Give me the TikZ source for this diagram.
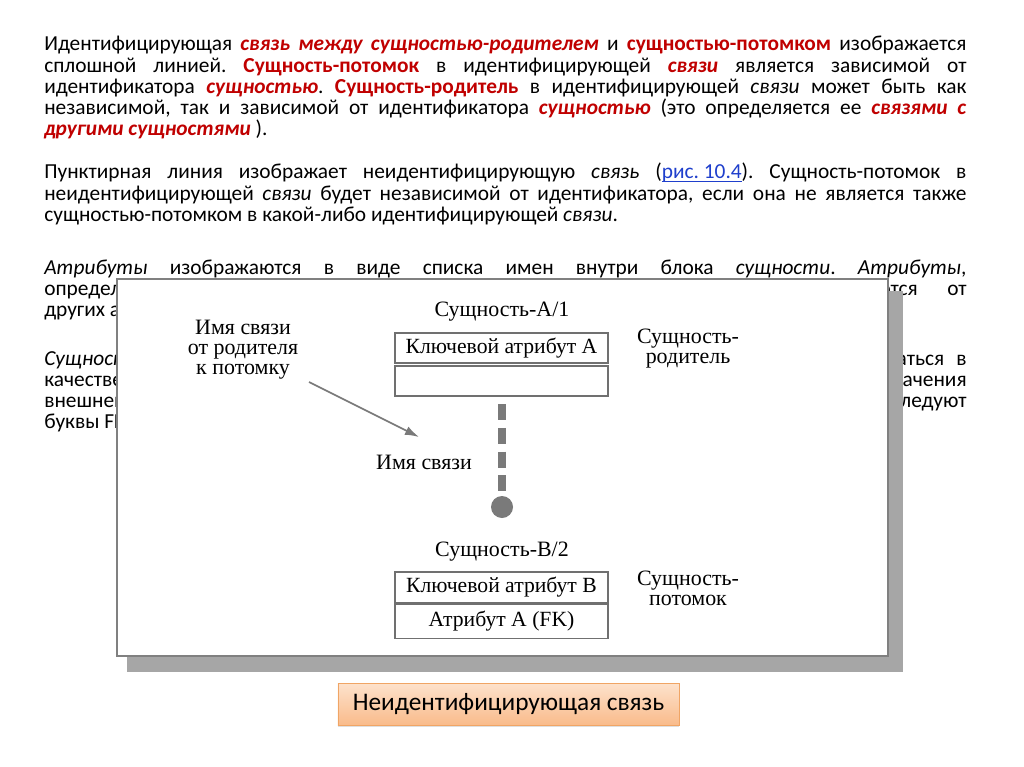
\documentclass[tikz,border=0pt]{standalone}
\usepackage{fontspec}
\setmainfont{Carlito}
\newfontfamily\figfont{Liberation Serif}
\usepackage{tikz}
\usetikzlibrary{positioning,arrows.meta,shadows}
\definecolor{txtred}{HTML}{C00000}
\definecolor{linkblue}{HTML}{1F3FCC}
\definecolor{framegray}{HTML}{808080}
\definecolor{shadowgray}{HTML}{A6A6A6}
\definecolor{linkgray}{HTML}{7A7A7A}
\definecolor{boxgray}{HTML}{707070}
\definecolor{captop}{HTML}{FDE2CC}
\definecolor{capbot}{HTML}{F9BB8B}
\definecolor{capline}{HTML}{F0A565}
\newcommand{\rb}[1]{\textcolor{txtred}{\textbf{#1}}}
\newcommand{\rbi}[1]{\textcolor{txtred}{\textbf{\textit{#1}}}}
\newcommand{\reflink}[1]{\textcolor{linkblue}{\setbox0\hbox{#1}\rlap{\rule[-1.8pt]{\wd0}{0.6pt}}\box0}}
\frenchspacing

\begin{document}
\begin{tikzpicture}[x=0.025cm,y=-0.025cm,
    para/.style={anchor=base west,inner sep=0pt,text width=23.05cm,align=justify,
      font=\fontsize{15.2}{14.94}\selectfont},
    figtext/.style={font=\figfont\fontsize{15.6}{14.2}\selectfont,inner sep=0pt,align=center},
    attrbox/.style={draw=boxgray,line width=0.9pt,fill=white,minimum width=5.325cm,
      inner sep=0pt,font=\figfont\fontsize{15.4}{15.4}\selectfont},
    linkdash/.style={draw=linkgray,line width=5pt,dash pattern=on 11.4pt off 5.5pt},
    namearrow/.style={draw=linkgray,line width=1.2pt,-{Latex[length=10pt,width=6.5pt]}},
    capbox/.style={draw=capline,line width=0.6pt,top color=captop,bottom color=capbot,
      minimum width=8.525cm,minimum height=1.05cm,inner sep=0pt,
      font=\fontsize{18}{18}\selectfont,
      drop shadow={opacity=0.25,shadow xshift=0pt,shadow yshift=-1.5pt}}]
  \useasboundingbox[fill=white] (0,0) rectangle (1024,767);

  % text of the slide
  \node[para] (par1) at (44,51) {Идентифицирующая \rbi{связь между сущностью-родителем} и \rb{сущностью-потомком} изображается\linebreak
    сплошной линией. \rb{Сущность-потомок} в идентифицирующей \rbi{связи} является зависимой от\linebreak
    идентификатора \rbi{сущностью}. \rb{Сущность-родитель} в идентифицирующей \textit{связи} может быть как\linebreak
    независимой, так и зависимой от идентификатора \rbi{сущностью} (это определяется ее \rbi{связями с}\linebreak
    \rbi{другими сущностями} ).};
  \node[para] (par2) at (44,179) {Пунктирная линия изображает неидентифицирующую \textit{связь} (\reflink{рис. 10.4}). Сущность-потомок в\linebreak
    неидентифицирующей \textit{связи} будет независимой от идентификатора, если она не является также\linebreak
    сущностью-потомком в какой-либо идентифицирующей \textit{связи}.};
  \node[para] (par3) at (44,274) {\textit{Атрибуты} изображаются в виде списка имен внутри блока \textit{сущности}. \textit{Атрибуты},\linebreak
    определяющие первичный ключ, размещаются наверху списка и отделяются от\linebreak
    других атрибутов горизонтальной чертой (рис. 10.5).};
  \node[para] (par4) at (44,365) {\textit{Сущности} могут иметь также внешние ключи (Foreign Key), которые могут использоваться в\linebreak
    качестве части или целого первичного ключа или неключевого атрибута. Для обозначения\linebreak
    внешнего ключа внутрь блока сущности помещают имена атрибутов, после которых следуют\linebreak
    буквы FK в скобках (рис. 10.6).};

  % figure frame with its shadow
  \fill[shadowgray] (127,291) rectangle (903,672);
  \draw[framegray,line width=1.4pt,fill=white] (117,279) rectangle (888,656);

  % parent entity
  \node[figtext] (titleA) at (502,312) {Сущность-A/1};
  \node[attrbox,minimum height=0.75cm] (keyA) at (501.5,348) {Ключевой атрибут А};
  \node[attrbox,minimum height=0.75cm] (restA) at (501.5,381) {};
  \node[figtext] (parentlbl) at (688,349) {Сущность-\\родитель};

  % relationship
  \node[figtext] (linkname) at (243,350) {Имя связи\\от родителя\\к потомку};
  \node[figtext] (midname) at (424,462) {Имя связи};
  \coordinate (arrowtail) at (309,382);
  \coordinate (arrowtip) at (419,437);
  \draw[namearrow] (arrowtail) -- (arrowtip);
  \node[circle,fill=linkgray,minimum size=0.55cm,inner sep=0pt] (dot) at (502,507) {};
  \coordinate (linkstart) at (502,404);
  \draw[linkdash] (linkstart) -- (dot.north);

  % child entity
  \node[figtext] (titleB) at (502,552) {Сущность-B/2};
  \node[attrbox,minimum height=0.775cm] (keyB) at (501.5,587.5) {Ключевой атрибут B};
  \node[attrbox,minimum height=0.85cm,below=0pt of keyB] (fkB) {Атрибут A (FK)};
  \draw[boxgray,line width=1.6pt] (keyB.south west) -- (keyB.south east);
  \node[figtext] (childlbl) at (688,588) {Сущность-\\потомок};

  % caption
  \node[capbox] (caption) at (508.5,704) {Неидентифицирующая связь};
\end{tikzpicture}
\end{document}
